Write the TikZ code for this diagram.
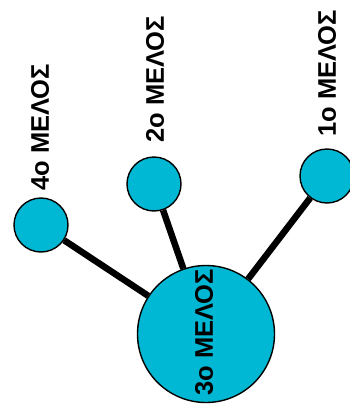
\documentclass[tikz,border=0pt]{standalone}
\usepackage{fontspec}
\setmainfont{Liberation Sans}
\definecolor{ballcyan}{RGB}{0,184,212}
\tikzset{
  member/.style={circle, draw=black, line width=1.4pt, fill=ballcyan, inner sep=0pt},
  small/.style={member, minimum size=54pt},
  big/.style={member, minimum size=137pt},
  link/.style={line width=6.5pt, black},
  lbl/.style={rotate=90, anchor=west, inner sep=0pt, font=\fontsize{25.5}{28}\selectfont\bfseries}
}
\begin{document}
\begin{tikzpicture}[x=1pt,y=-1pt]
\useasboundingbox (0,0) rectangle (350,407);
\clip (0,0) rectangle (350,407);
\fill[white] (0,0) rectangle (350,407);
\node[big] (m3) at (206,334) {};
\node[small] (m4) at (41,225) {};
\node[small] (m2) at (154,184) {};
\node[small] (m1) at (327,176) {};
\draw[link] (m4) -- (m3);
\draw[link] (m2) -- (m3);
\draw[link] (m1) -- (m3);
\node[lbl] (t4) at (40,191) {4ο ΜΕΛΟΣ};
\node[lbl] (t2) at (155,143) {2ο ΜΕΛΟΣ};
\node[lbl] (t1) at (327,137) {1ο ΜΕΛΟΣ};
\node[lbl] (t3) at (204,396) {3ο ΜΕΛΟΣ};
\end{tikzpicture}
\end{document}
